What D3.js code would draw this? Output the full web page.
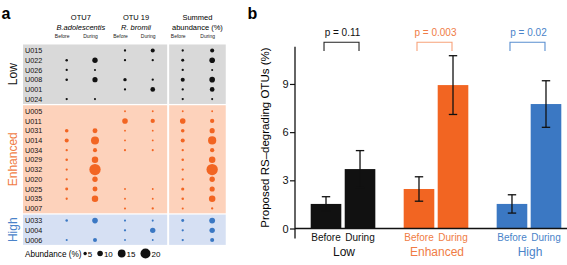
<!DOCTYPE html>
<html>
<head>
<meta charset="utf-8">
<script src="https://cdn.jsdelivr.net/npm/d3@7"></script>
<style>
  body { margin: 0; background: #fff; }
  svg { font-family: "Liberation Sans", Arial, sans-serif; display: block; }
</style>
</head>
<body>
<div id="chart"></div>
<script>
// ---- data: panel a (abundance %, per sample row) ----
var rowIds = ["U015", "U022", "U026", "U008", "U001", "U024",
              "U005", "U011", "U031", "U014", "U034", "U029", "U032", "U020", "U025", "U035", "U007",
              "U033", "U004", "U006"];
var rowGroup = ["Low", "Low", "Low", "Low", "Low", "Low",
                "Enhanced", "Enhanced", "Enhanced", "Enhanced", "Enhanced", "Enhanced", "Enhanced", "Enhanced", "Enhanced", "Enhanced", "Enhanced",
                "High", "High", "High"];
var otu7Before  = [0, 3, 2.5, 3, 0, 2.5,   0, 0, 5.5, 6.5, 2.5, 3, 2.5, 2.5, 4, 2.5, 0,   3, 0, 2];
var otu7During  = [0, 9.5, 2, 9, 0, 2,     0, 0, 8.5, 15.5, 6.5, 12, 23, 9.5, 8.5, 12, 0,   10, 0, 6.5];
var otu19Before = [2.5, 2.5, 0, 5, 2.5, 0, 1.5, 10, 1.5, 1.5, 2, 0, 0, 0, 1.5, 1.5, 2,   2, 2.5, 1.5];
var otu19During = [6.5, 2.5, 0, 2.5, 8, 0, 1.5, 7, 1.5, 1.5, 2, 0, 0, 0, 1.5, 1.5, 2.5,   2, 9.5, 1.5];
var sumBefore   = [2.5, 4, 2.5, 6.5, 2.5, 2.5, 1.5, 10, 5.5, 6.5, 2.5, 3, 2.5, 2.5, 4.5, 3, 2,   4, 2.5, 2.5];
var sumDuring   = [6.5, 10, 2, 10, 8, 2,   1.5, 7, 9, 16, 7, 12, 23, 9.5, 9, 12, 2.5,   10.5, 9.5, 6.5];
var legendValues = [5, 10, 15, 20];

// ---- data: panel b ----
var groups = ["Low", "Enhanced", "High"];
var periods = ["Before", "During"];
var meanBefore = [1.53, 2.46, 1.53];
var meanDuring = [3.7, 8.93, 7.75];
var seBefore = [0.45, 0.76, 0.57];
var seDuring = [1.15, 1.83, 1.45];
var pValues = ["p = 0.11", "p = 0.003", "p = 0.02"];
var yTicks = [0, 3, 6, 9];

// colours
var dotColor = { Low: "#111111", Enhanced: "#f26522", High: "#3b78c3" };
var boxColor = { Low: "#d9d9d9", Enhanced: "#fdd2bb", High: "#d6e0f3" };
var labelColor = { Low: "#111111", Enhanced: "#f07c45", High: "#4a83c9" };
var bracketColor = { Low: "#222222", Enhanced: "#f7a27a", High: "#5a8fd0" };

var width = 567, height = 265;
var svg = d3.select("#chart").append("svg")
    .attr("width", width)
    .attr("height", height);

// ================= panel a =================
var columns = [otu7Before, otu7During, otu19Before, otu19During, sumBefore, sumDuring];
var colSlot = [0, 1, 2.06, 3.04, 4.1, 5.14];
var xCol = d3.scaleLinear().domain([0, 1]).range([66.7, 95]);

// row position: index plus a small gap between groups
var rowSlot = rowIds.map(function(d, i) { return i + groups.indexOf(rowGroup[i]) * 0.25; });
var yRow = d3.scaleLinear().domain([0, 1]).range([50.5, 60.22]);
var rScale = d3.scaleLinear().domain([0, 20]).range([0.6, 5]);

svg.append("text").attr("x", 1.5).attr("y", 18.5)
    .attr("font-size", 16).attr("font-weight", "bold").text("a");

// group boxes (OTU block + summed block)
var blocks = [[23, xCol(3.55)], [xCol(3.62), xCol(5.62)]];
groups.forEach(function(g) {
    var idx = d3.range(rowIds.length).filter(function(i) { return rowGroup[i] === g; });
    var top = yRow(rowSlot[idx[0]] - 0.62);
    var bot = yRow(rowSlot[idx[idx.length - 1]] + 0.5);
    blocks.forEach(function(b) {
        svg.append("rect")
            .attr("x", b[0])
            .attr("y", top)
            .attr("width", b[1] - b[0])
            .attr("height", bot - top)
            .attr("fill", boxColor[g]);
    });
    svg.append("text")
        .attr("transform", "translate(16.5," + ((top + bot) / 2) + ") rotate(-90)")
        .attr("text-anchor", "middle")
        .attr("font-size", 12)
        .attr("fill", labelColor[g])
        .text(g);
});

// header texts
var headers = [
    { c: 0.5, l1: "OTU7", l2: "B.adolescentis", it: true },
    { c: 2.45, l1: "OTU 19", l2: "R. bromii", it: true },
    { c: 4.62, l1: "Summed", l2: "abundance (%)", it: false }
];
headers.forEach(function(h) {
    svg.append("text").attr("x", xCol(h.c)).attr("y", 20)
        .attr("text-anchor", "middle").attr("font-size", 7.5).text(h.l1);
    svg.append("text").attr("x", xCol(h.c)).attr("y", 29.5)
        .attr("text-anchor", "middle").attr("font-size", 7.5)
        .attr("font-style", h.it ? "italic" : "normal").text(h.l2);
});
colSlot.forEach(function(s, i) {
    svg.append("text").attr("x", xCol(s) - 4.5).attr("y", 38)
        .attr("text-anchor", "middle").attr("font-size", 5)
        .attr("fill", "#222").text(periods[i % 2]);
});

// row labels
svg.selectAll(".rowlab").data(rowIds).enter().append("text")
    .attr("class", "rowlab")
    .attr("x", 25)
    .attr("y", function(d, i) { return yRow(rowSlot[i]) + 2.6; })
    .attr("font-size", 7.2)
    .attr("fill", "#111")
    .text(function(d) { return d; });

// dots
columns.forEach(function(col, c) {
    svg.append("g").selectAll("circle")
        .data(col.map(function(v, i) { return { v: v, i: i }; }).filter(function(d) { return d.v > 0; }))
        .enter()
        .append("circle")
        .attr("cx", xCol(colSlot[c]))
        .attr("cy", function(d) { return yRow(rowSlot[d.i]); })
        .attr("r", function(d) { return rScale(d.v); })
        .attr("fill", function(d) { return dotColor[rowGroup[d.i]]; });
});

// legend, laid out left to right
var leg = svg.append("g");
var lt = leg.append("text").attr("x", 25).attr("y", 256.5).attr("font-size", 8.2).text("Abundance (%)");
var cursor = 25 + lt.node().getComputedTextLength() + 2;
legendValues.forEach(function(v) {
    var r = rScale(v);
    leg.append("circle").attr("cx", cursor + r).attr("cy", 253.5).attr("r", r).attr("fill", "#111");
    var t = leg.append("text").attr("x", cursor + 2 * r + 1).attr("y", 256.5)
        .attr("font-size", 8).text(v);
    cursor += 2 * r + 1 + t.node().getComputedTextLength() + 5;
});

// ================= panel b =================
svg.append("text").attr("x", 247.5).attr("y", 19)
    .attr("font-size", 16).attr("font-weight", "bold").text("b");

var y = d3.scaleLinear().domain([0, 11.32]).range([228.5, 46.7]);
var x0 = d3.scaleBand().domain(groups).range([310.7, 561.3]).paddingInner(0.305).paddingOuter(0);
var x1 = d3.scaleBand().domain(periods).range([0, x0.bandwidth()]).paddingInner(0.1);

var bars = [];
groups.forEach(function(g, i) {
    bars.push({ g: g, p: "Before", m: meanBefore[i], se: seBefore[i] });
    bars.push({ g: g, p: "During", m: meanDuring[i], se: seDuring[i] });
});
var barMid = function(d) { return x0(d.g) + x1(d.p) + x1.bandwidth() / 2; };

svg.selectAll(".bar").data(bars).enter().append("rect")
    .attr("class", "bar")
    .attr("x", function(d) { return x0(d.g) + x1(d.p); })
    .attr("y", function(d) { return y(d.m); })
    .attr("width", x1.bandwidth())
    .attr("height", function(d) { return y(0) - y(d.m); })
    .attr("fill", function(d) { return dotColor[d.g]; });

// error bars
var eb = svg.selectAll(".err").data(bars).enter().append("g").attr("class", "err")
    .attr("stroke", "#111").attr("stroke-width", 1.3);
eb.append("line")
    .attr("x1", barMid).attr("x2", barMid)
    .attr("y1", function(d) { return y(d.m - d.se); })
    .attr("y2", function(d) { return y(d.m + d.se); });
[1, -1].forEach(function(s) {
    eb.append("line")
        .attr("x1", function(d) { return barMid(d) - 4.2; })
        .attr("x2", function(d) { return barMid(d) + 4.2; })
        .attr("y1", function(d) { return y(d.m + s * d.se); })
        .attr("y2", function(d) { return y(d.m + s * d.se); });
});

// axes
var yAxis = d3.axisLeft(y).tickValues(yTicks).tickSize(5).tickPadding(1.5);
var ya = svg.append("g").attr("transform", "translate(295,0)").call(yAxis);
ya.select(".domain").remove();
ya.selectAll("line").attr("stroke", "#111").attr("stroke-width", 1.2);
ya.selectAll("text").attr("font-size", 11).attr("font-family", "Liberation Sans, Arial, sans-serif").attr("fill", "#111");
svg.append("line").attr("x1", 295).attr("x2", 295).attr("y1", y.range()[1]).attr("y2", y(0) + 10)
    .attr("stroke", "#111").attr("stroke-width", 1.3);
svg.append("line").attr("x1", 295).attr("x2", width).attr("y1", y(0)).attr("y2", y(0))
    .attr("stroke", "#111").attr("stroke-width", 1.3);

svg.append("text")
    .attr("transform", "translate(268.5," + ((y.range()[0] + y.range()[1]) / 2) + ") rotate(-90)")
    .attr("text-anchor", "middle")
    .attr("font-size", 11.5)
    .text("Proposed RS\u2013degrading OTUs (%)");

// x labels
svg.selectAll(".xlab").data(bars).enter().append("text")
    .attr("class", "xlab")
    .attr("x", barMid)
    .attr("y", 240.5)
    .attr("text-anchor", "middle")
    .attr("font-size", 10)
    .attr("fill", function(d) { return labelColor[d.g]; })
    .text(function(d) { return d.p; });
groups.forEach(function(g) {
    svg.append("text")
        .attr("x", x0(g) + x0.bandwidth() / 2 + 1)
        .attr("y", 255.5)
        .attr("text-anchor", "middle")
        .attr("font-size", 12)
        .attr("fill", labelColor[g])
        .text(g);
});

// p-value brackets
groups.forEach(function(g, i) {
    var cx = x0(g) + x0.bandwidth() / 2 - 1.5;
    svg.append("path")
        .attr("d", "M" + (cx - 17.5) + ",51V42.3H" + (cx + 17.5) + "V51")
        .attr("fill", "none")
        .attr("stroke", bracketColor[g])
        .attr("stroke-width", 1.1);
    svg.append("text")
        .attr("x", cx + 1)
        .attr("y", 36)
        .attr("text-anchor", "middle")
        .attr("font-size", 10)
        .attr("fill", labelColor[g])
        .text(pValues[i]);
});
</script>
</body>
</html>
